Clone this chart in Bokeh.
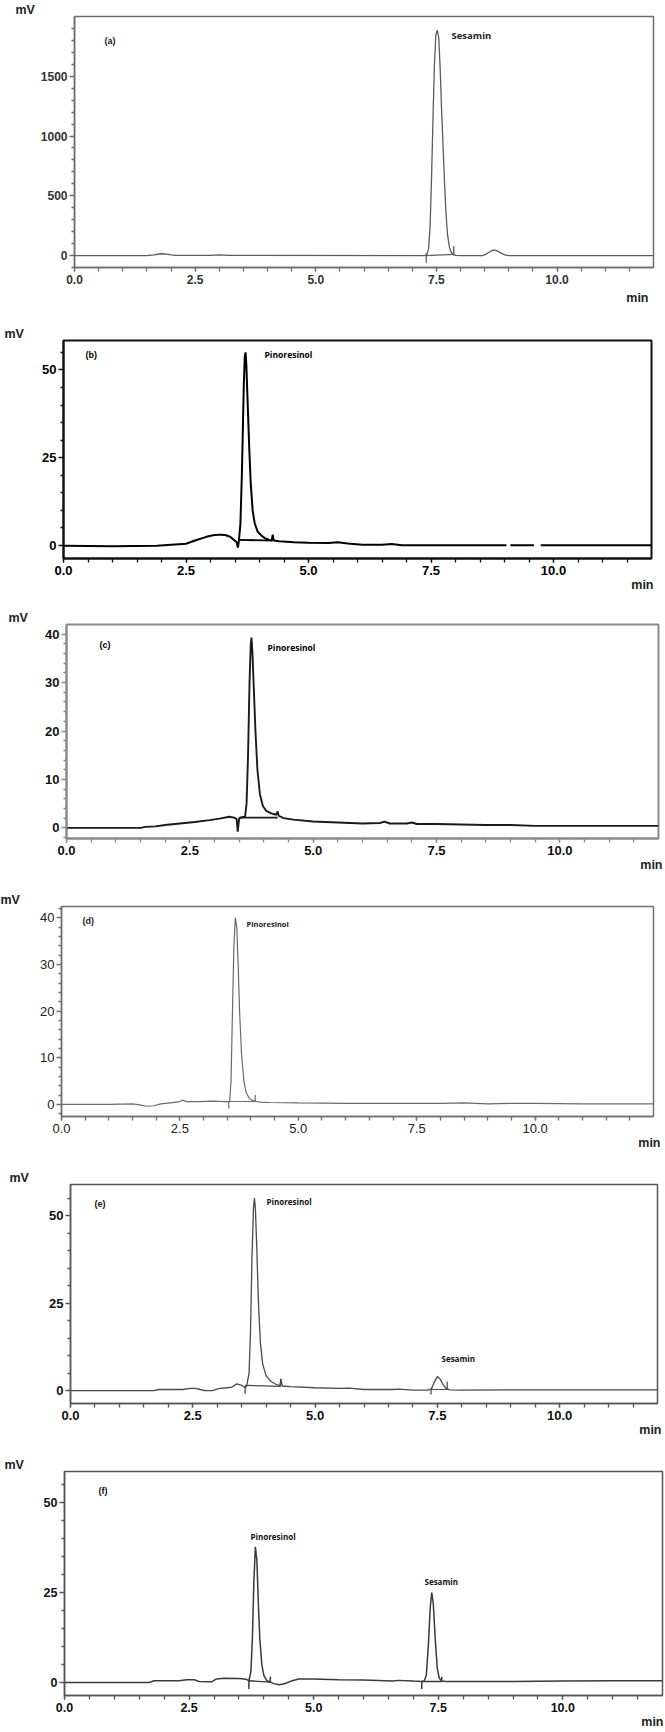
from bokeh.plotting import figure
from bokeh.layouts import column, row
from bokeh.models import Range1d, FixedTicker, PrintfTickFormatter, Label, Title
from bokeh.embed import file_html
from bokeh.resources import INLINE

nan = float("nan")

# ---------------- data ----------------
x_ticks = [0.0, 2.5, 5.0, 7.5, 10.0]

# (a) standard sesamin
a_t = [0, 1.5, 1.65, 1.75, 1.82, 1.9, 2.0, 2.1, 2.8, 3.0, 3.2, 7.25, 7.30, 7.34, 7.37, 7.40,
       7.43, 7.46, 7.49, 7.52, 7.55, 7.58, 7.61, 7.64, 7.67, 7.70, 7.73, 7.77, 7.81, 7.86,
       7.9, 8.0, 8.45, 8.52, 8.6, 8.67, 8.72, 8.78, 8.85, 8.92, 9.0, 12]
a_mv = [0, 0, 5, 13, 15, 12, 5, 1, 1, 5, 1, 0, 5, 60, 250, 650, 1150, 1600, 1850, 1885, 1820,
        1550, 1200, 900, 600, 350, 180, 70, 25, 8, 2, 0, 0, 10, 30, 45, 45, 35, 18, 5, 0, 0]
a_mark_t = [7.29, 7.86]
a_mark_lo = [-60, 0]
a_mark_hi = [20, 80]
a_base = [(7.29, 0, 7.86, 10)]
a_yticks = [0, 500, 1000, 1500]
a_yminor = [-100, 100, 200, 300, 400, 600, 700, 800, 900, 1100, 1200, 1300, 1400, 1600, 1700, 1800, 1900]

# (b)
b_t = [0, 1.0, 1.9, 2.2, 2.5, 2.7, 2.9, 3.05, 3.2, 3.3, 3.4, 3.48, 3.53, 3.56, 3.58, 3.61,
       3.64, 3.66, 3.68, 3.70, 3.715, 3.73, 3.76, 3.79, 3.82, 3.86, 3.9, 3.96, 4.04, 4.12,
       4.2, 4.25, 4.27, 4.29, 4.4, 4.7, 5.0, 5.4, 5.6, 5.8, 6.1, 6.5, 6.7, 6.9, 7.5, 8.5,
       9.04, nan, 9.12, 9.6, nan, 9.74, 12]
b_mv = [-0.1, -0.2, -0.1, 0.2, 0.5, 1.5, 2.4, 2.9, 3.1, 3.0, 2.5, 1.6, 1.0, -0.6, 1.5, 6,
        20, 33, 46, 54, 55, 52, 40, 28, 18, 10, 6.5, 4.0, 2.8, 2.0, 1.6, 1.5, 3.1, 1.4,
        1.2, 0.9, 0.8, 0.7, 0.9, 0.6, 0.2, 0.2, 0.4, 0.1, 0.1, 0.1, 0.1, nan, 0.1, 0.1, nan, 0.1, 0.1]
b_mark_t = []
b_mark_lo = []
b_mark_hi = []
b_base = [(3.57, 1.6, 4.27, 1.4)]
b_yticks = [0, 25, 50]
b_yminor = [5, 10, 15, 20, 30, 35, 40, 45, 55]

# (c)
c_t = [0, 1.5, 1.6, 1.8, 2.0, 2.3, 2.6, 2.9, 3.1, 3.3, 3.4, 3.45, 3.47, 3.5, 3.55, 3.62,
       3.65, 3.68, 3.71, 3.735, 3.75, 3.77, 3.80, 3.83, 3.87, 3.92, 3.98, 4.05, 4.15, 4.25,
       4.28, 4.3, 4.4, 4.6, 5.0, 5.5, 6.0, 6.35, 6.45, 6.55, 6.9, 7.0, 7.1, 7.5, 8.0, 8.5,
       9.0, 9.5, 10.0, 12]
c_mv = [0, 0, 0.2, 0.3, 0.6, 0.9, 1.2, 1.6, 1.9, 2.3, 2.1, 1.8, -0.8, 1.9, 2.2, 2.3, 5, 15,
        30, 38, 39.3, 36, 28, 20, 12, 7, 4.5, 3.5, 3.0, 2.7, 3.4, 2.5, 2.0, 1.7, 1.3, 1.1,
        0.9, 1.0, 1.3, 0.9, 0.9, 1.1, 0.8, 0.8, 0.7, 0.6, 0.6, 0.4, 0.4, 0.4]
c_mark_t = []
c_mark_lo = []
c_mark_hi = []
c_base = [(3.5, 2.1, 4.28, 2.1)]
c_yticks = [0, 10, 20, 30, 40]
c_yminor = [-2, 2, 4, 6, 8, 12, 14, 16, 18, 22, 24, 26, 28, 32, 34, 36, 38]

# (d)
d_t = [0, 1.0, 1.5, 1.65, 1.8, 1.95, 2.1, 2.3, 2.5, 2.55, 2.65, 2.9, 3.2, 3.45, 3.55, 3.58,
       3.61, 3.64, 3.67, 3.70, 3.73, 3.76, 3.80, 3.85, 3.9, 3.97, 4.05, 4.12, 4.2, 4.4, 5.0,
       6.0, 7.0, 8.0, 8.5, 9.0, 9.5, 10.0, 11.0, 12.5]
d_mv = [0, 0, 0.1, -0.1, -0.4, -0.3, 0.1, 0.3, 0.6, 0.9, 0.6, 0.6, 0.7, 0.6, 0.6, 5, 20, 34,
        40, 38, 30, 20, 11, 5, 2.5, 1.2, 0.8, 0.6, 0.5, 0.4, 0.3, 0.2, 0.2, 0.2, 0.3, 0.1,
        0.2, 0.2, 0.1, 0.1]
d_mark_t = [3.53, 4.09]
d_mark_lo = [-0.9, 0.6]
d_mark_hi = [0.6, 2.0]
d_base = [(3.53, 0.6, 4.09, 0.6)]
d_yticks = [0, 10, 20, 30, 40]
d_yminor = [-2, 2, 4, 6, 8, 12, 14, 16, 18, 22, 24, 26, 28, 32, 34, 36, 38, 42]

# (e)
e_t = [0, 1.7, 1.8, 2.3, 2.45, 2.55, 2.65, 2.75, 2.9, 3.05, 3.2, 3.3, 3.4, 3.5, 3.57, 3.6,
       3.65, 3.68, 3.71, 3.74, 3.76, 3.78, 3.81, 3.84, 3.88, 3.93, 4.0, 4.1, 4.2, 4.28, 4.3,
       4.33, 4.5, 5.0, 5.5, 5.7, 6.0, 6.6, 6.7, 7.0, 7.3, 7.38, 7.44, 7.5, 7.56, 7.62, 7.68,
       7.75, 8.0, 9.0, 10.0, 12]
e_mv = [0, 0, 0.3, 0.3, 0.6, 0.6, 0.3, 0.0, 0.0, 0.6, 0.8, 1.0, 1.9, 1.5, 0.8, 1.2, 5, 17,
        38, 52, 55, 52, 40, 26, 14, 7.5, 4.2, 2.6, 1.8, 1.4, 3.3, 1.3, 1.1, 0.8, 0.6, 0.7,
        0.3, 0.3, 0.4, 0.1, 0.1, 0.5, 2.5, 4.0, 3.2, 1.6, 0.6, 0.2, 0.1, 0.2, 0.2, 0.2]
e_mark_t = [3.57, 4.3, 7.37, 7.7]
e_mark_lo = [-0.9, 1.3, -1.1, 0.2]
e_mark_hi = [1.4, 3.4, 0.4, 2.5]
e_base = [(3.57, 1.5, 4.3, 1.2), (7.37, 0.3, 7.7, 0.3)]
e_yticks = [0, 25, 50]
e_yminor = [5, 10, 15, 20, 30, 35, 40, 45, 55]

# (f)
f_t = [0, 1.7, 1.8, 2.3, 2.45, 2.6, 2.7, 2.95, 3.05, 3.2, 3.5, 3.65, 3.7, 3.74, 3.77, 3.80,
       3.83, 3.86, 3.89, 3.92, 3.96, 4.0, 4.06, 4.12, 4.2, 4.3, 4.4, 4.55, 4.7, 5.0, 5.5,
       6.0, 6.6, 6.7, 7.0, 7.17, 7.22, 7.26, 7.3, 7.34, 7.37, 7.4, 7.44, 7.48, 7.52, 7.57,
       7.65, 8.0, 9.0, 10.0, 11.0, 12]
f_mv = [0, 0, 0.5, 0.5, 0.8, 0.8, 0.3, 0.2, 1.0, 1.2, 1.1, 0.9, 0.5, 3, 12, 28, 37.7, 34,
        22, 12, 5, 2, 0.5, 0.2, -0.3, -0.6, -0.4, 0.4, 1.0, 1.0, 0.8, 0.7, 0.4, 0.6, 0.4,
        0.3, 0.4, 2, 10, 21, 25, 22, 12, 4, 1.2, 0.4, 0.3, 0.3, 0.3, 0.4, 0.5, 0.5]
f_mark_t = [3.7, 4.13, 7.17, 7.57]
f_mark_lo = [-1.8, 0.1, -1.8, 0.3]
f_mark_hi = [0.5, 1.6, 0.3, 1.6]
f_base = [(3.7, 0.5, 4.13, 0.1), (7.17, 0.3, 7.57, 0.3)]
f_yticks = [0, 25, 50]
f_yminor = [5, 10, 15, 20, 30, 35, 40, 45, 55]

# ---------------- layout / style ----------------
FONT = "Liberation Sans"
PAGE_X0, FIG_W = 0, 665

panels = [
    dict(name="(a)", t=a_t, v=a_mv, mt=a_mark_t, mlo=a_mark_lo, mhi=a_mark_hi, base=a_base,
         yt=a_yticks, ym=a_yminor, xr=(0, 12), yr=(-100, 2000),
         top=0, bot=315, L=74, R=653, T=15, B=266,
         col="#5c5c5c", lw=1.3, frame="#6e6e6e", fw=1.5, tcol="#333333", tsize="12px", tstyle="bold",
         mv_x=15, mn_x=648, mn_dy=32, tag=(104, 39),
         peaks=[("Sesamin", 451, 34)], psize="9.5px", pcol="#222222"),
    dict(name="(b)", t=b_t, v=b_mv, mt=b_mark_t, mlo=b_mark_lo, mhi=b_mark_hi, base=b_base,
         yt=b_yticks, ym=b_yminor, xr=(0, 12), yr=(-3.7, 58.4),
         top=315, bot=600, L=63, R=651, T=339, B=557,
         col="#000000", lw=2.0, frame="#111111", fw=2.0, tcol="#000000", tsize="13px", tstyle="bold",
         mv_x=4, mn_x=653, mn_dy=26, tag=(85, 353),
         peaks=[("Pinoresinol", 264, 353)], psize="8.5px", pcol="#000000"),
    dict(name="(c)", t=c_t, v=c_mv, mt=c_mark_t, mlo=c_mark_lo, mhi=c_mark_hi, base=c_base,
         yt=c_yticks, ym=c_yminor, xr=(0, 12), yr=(-2.2, 42),
         top=600, bot=880, L=66, R=658, T=623, B=837,
         col="#1a1a1a", lw=1.9, frame="#8a8a8a", fw=2.0, tcol="#111111", tsize="13px", tstyle="bold",
         mv_x=8, mn_x=662, mn_dy=26, tag=(99, 643),
         peaks=[("Pinoresinol", 267, 646)], psize="8.5px", pcol="#000000"),
    dict(name="(d)", t=d_t, v=d_mv, mt=d_mark_t, mlo=d_mark_lo, mhi=d_mark_hi, base=d_base,
         yt=d_yticks, ym=d_yminor, xr=(0, 12.5), yr=(-2.6, 42.4),
         top=880, bot=1155, L=61, R=653, T=905, B=1115,
         col="#6a6a6a", lw=1.2, frame="#707070", fw=1.5, tcol="#222222", tsize="13px", tstyle="normal",
         mv_x=0, mn_x=660, mn_dy=21, tag=(82, 919),
         peaks=[("Pinoresinol", 246, 922)], psize="7.5px", pcol="#222222"),
    dict(name="(e)", t=e_t, v=e_mv, mt=e_mark_t, mlo=e_mark_lo, mhi=e_mark_hi, base=e_base,
         yt=e_yticks, ym=e_yminor, xr=(0, 12), yr=(-3.7, 58.9),
         top=1155, bot=1445, L=70, R=657, T=1183, B=1402,
         col="#4a4a4a", lw=1.3, frame="#555555", fw=1.5, tcol="#111111", tsize="13px", tstyle="bold",
         mv_x=9, mn_x=661, mn_dy=26, tag=(94, 1202),
         peaks=[("Pinoresinol", 266, 1200), ("Sesamin", 441, 1357)], psize="8px", pcol="#111111"),
    dict(name="(f)", t=f_t, v=f_mv, mt=f_mark_t, mlo=f_mark_lo, mhi=f_mark_hi, base=f_base,
         yt=f_yticks, ym=f_yminor, xr=(0, 12), yr=(-3.6, 58.6),
         top=1445, bot=1728, L=64, R=662, T=1470, B=1694,
         col="#3a3a3a", lw=1.5, frame="#555555", fw=1.5, tcol="#111111", tsize="12.5px", tstyle="bold",
         mv_x=4, mn_x=663, mn_dy=28, tag=(98, 1489),
         peaks=[("Pinoresinol", 250, 1535), ("Sesamin", 424, 1580)], psize="8px", pcol="#111111"),
]

x_minor = [i * 0.5 for i in range(0, 26)]


def to_data(cfg, px, py):
    x0, x1 = cfg["xr"]
    y0, y1 = cfg["yr"]
    dx = x0 + (px - cfg["L"]) / (cfg["R"] - cfg["L"]) * (x1 - x0)
    dy = y1 - (py - cfg["T"]) / (cfg["B"] - cfg["T"]) * (y1 - y0)
    return dx, dy


rows = []
for cfg in panels:
    p = figure(
        frame_width=cfg["R"] - cfg["L"], frame_height=cfg["B"] - cfg["T"],
        min_border_left=cfg["L"] - PAGE_X0,
        min_border_right=PAGE_X0 + FIG_W - cfg["R"],
        min_border_top=cfg["T"] - cfg["top"],
        min_border_bottom=cfg["bot"] - cfg["B"],
        x_range=Range1d(*cfg["xr"]), y_range=Range1d(*cfg["yr"]),
        output_backend="svg", toolbar_location=None,
        background_fill_color="white", border_fill_color="white",
    )
    p.grid.visible = False
    p.outline_line_color = cfg["frame"]
    p.outline_line_width = cfg["fw"]

    p.xaxis.ticker = FixedTicker(ticks=x_ticks, minor_ticks=[m for m in x_minor if m <= cfg["xr"][1] - 0.2])
    p.xaxis.formatter = PrintfTickFormatter(format="%.1f")
    p.yaxis.ticker = FixedTicker(ticks=cfg["yt"], minor_ticks=cfg["ym"])
    p.yaxis.formatter = PrintfTickFormatter(format="%d")
    for ax in (p.xaxis, p.yaxis):
        ax.axis_line_color = cfg["frame"]
        ax.axis_line_width = cfg["fw"]
        ax.major_tick_line_color = cfg["frame"]
        ax.minor_tick_line_color = cfg["frame"]
        ax.major_tick_line_width = 1.3
        ax.minor_tick_line_width = 1.3
        ax.major_label_text_font = FONT
        ax.major_label_text_font_size = cfg["tsize"]
        ax.major_label_text_font_style = cfg["tstyle"]
        ax.major_label_text_color = cfg["tcol"]
        ax.minor_tick_in = 0
        ax.major_tick_in = 0
    p.xaxis.major_tick_out = 4
    p.xaxis.minor_tick_out = 4
    p.xaxis.major_label_standoff = 3
    p.yaxis.major_tick_out = 5
    p.yaxis.minor_tick_out = 3
    p.yaxis.major_label_standoff = 2

    # chromatogram trace
    p.line(cfg["t"], cfg["v"], line_color=cfg["col"], line_width=cfg["lw"])
    # integration baselines
    if cfg["base"]:
        p.segment(x0=[b[0] for b in cfg["base"]], y0=[b[1] for b in cfg["base"]],
                  x1=[b[2] for b in cfg["base"]], y1=[b[3] for b in cfg["base"]],
                  line_color=cfg["col"], line_width=cfg["lw"] * 0.9)
    # peak start/end markers
    if cfg["mt"]:
        p.segment(x0=cfg["mt"], y0=cfg["mlo"], x1=cfg["mt"], y1=cfg["mhi"],
                  line_color=cfg["col"], line_width=cfg["lw"])

    # axis unit texts as titles (outside the frame)
    p.add_layout(Title(text="mV", align="left", offset=cfg["mv_x"] - cfg["L"], standoff=0,
                       vertical_align="bottom", text_font=FONT, text_font_size="12.5px",
                       text_font_style="bold", text_color="#222222"), "above")
    so = max(0.0, 2 * (cfg["mn_dy"] - 28))
    p.add_layout(Title(text="min", align="right", offset=cfg["R"] - cfg["mn_x"], standoff=so,
                       vertical_align="top", text_font=FONT, text_font_size="12.5px",
                       text_font_style="bold", text_color="#222222"), "below")

    tx, ty = to_data(cfg, cfg["tag"][0], cfg["tag"][1])
    p.add_layout(Label(x=tx, y=ty, text=cfg["name"], text_font=FONT, text_font_size="9px",
                       text_font_style="bold", text_color=cfg["pcol"],
                       text_align="left", text_baseline="middle"))
    for (txt, px, py) in cfg["peaks"]:
        qx, qy = to_data(cfg, px, py)
        p.add_layout(Label(x=qx, y=qy, text=txt, text_font="Open Sans", text_font_size=cfg["psize"],
                           text_font_style="bold", text_color=cfg["pcol"],
                           text_align="left", text_baseline="middle"))
    # wrap every panel in its own row so that the column does not align the frames
    rows.append(row(p, spacing=0))

layout = column(*rows, spacing=0)
open("out.html", "w").write(file_html(layout, INLINE))
